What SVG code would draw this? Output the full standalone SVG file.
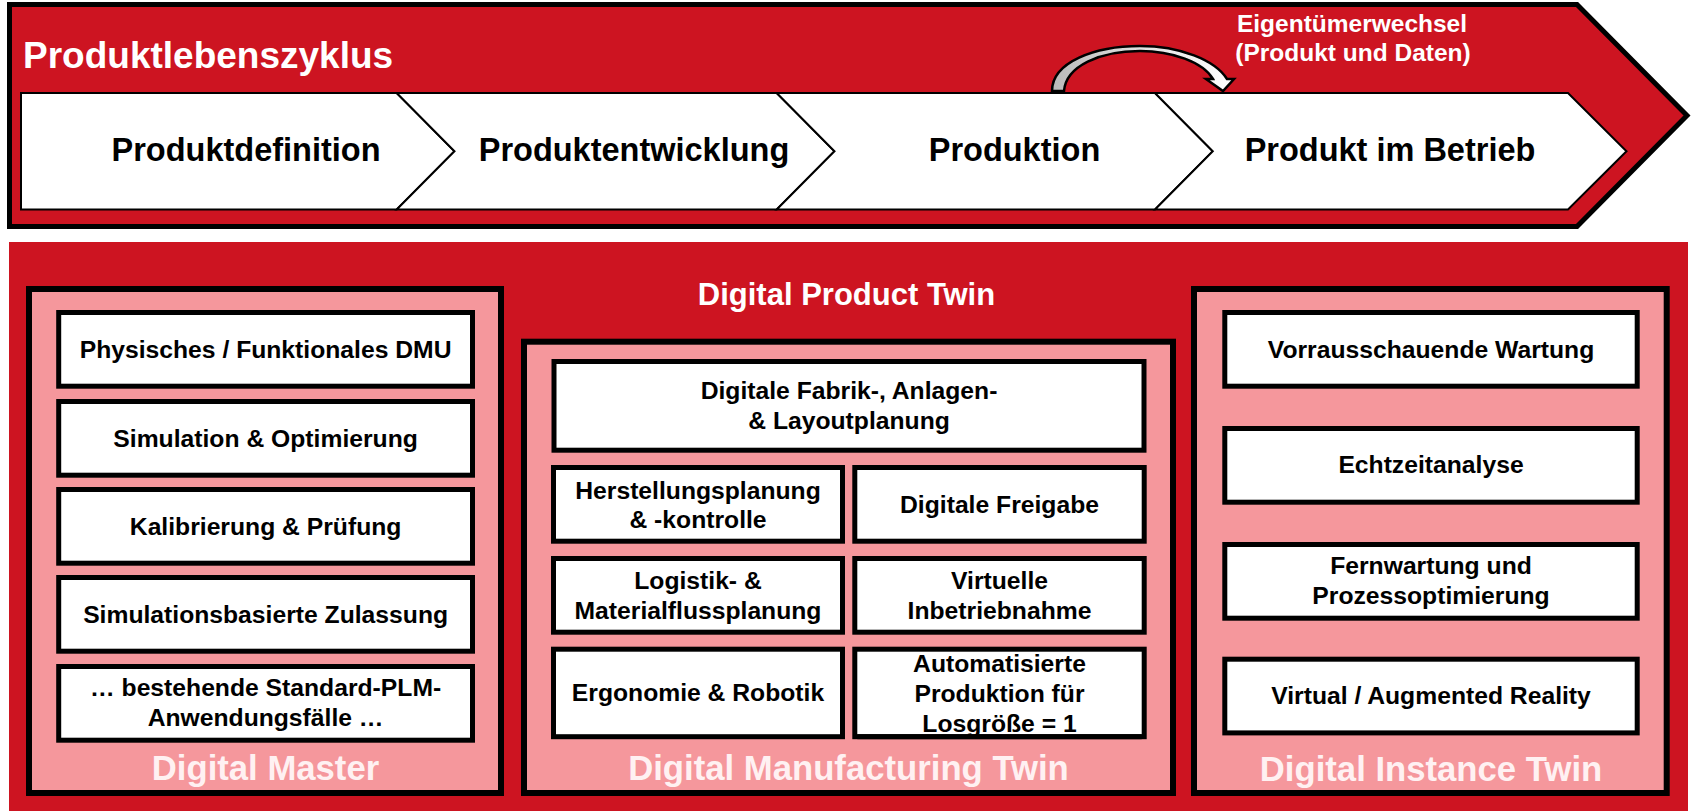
<svg xmlns="http://www.w3.org/2000/svg" width="1693" height="811" viewBox="0 0 1693 811">
<defs>
<linearGradient id="arrowGrad" x1="1052" y1="0" x2="1234" y2="0" gradientUnits="userSpaceOnUse">
<stop offset="0" stop-color="#b9b9b9"/>
<stop offset="0.55" stop-color="#e6e6e6"/>
<stop offset="1" stop-color="#ffffff"/>
</linearGradient>
</defs>
<style>
text{font-family:"Liberation Sans",Arial,Helvetica,sans-serif;font-weight:bold;text-anchor:middle}
.item{fill:#ffffff;stroke:#000000;stroke-width:5}
.itemt{font-size:24.7px;fill:#000000}
.group{fill:#f5979c;stroke:#000000;stroke-width:6}
.gtitle{font-size:34.7px;fill:#fff1f2}
.chev{fill:#ffffff;stroke:#000000;stroke-width:2}
.phase{font-size:32.5px;fill:#000000}
</style>
<rect width="1693" height="811" fill="#ffffff"/>

<g id="lifecycle">
<polygon points="9.5,4.5 1577,4.5 1687,115.5 1577,226.5 9.5,226.5" fill="#cd1421" stroke="#000000" stroke-width="5"/>
<text x="23" y="68" style="text-anchor:start;font-size:37px;fill:#ffffff">Produktlebenszyklus</text>
</g>

<g id="phase1">
<polygon class="chev" points="21,93 396.7,93 454.5,151.3 396.7,209.5 21,209.5"/>
<text class="phase" x="246" y="161">Produktdefinition</text>
</g>
<g id="phase2">
<polygon class="chev" points="396.7,93 776.7,93 834.5,151.3 776.7,209.5 396.7,209.5 454.5,151.3"/>
<text class="phase" x="634" y="161">Produktentwicklung</text>
</g>
<g id="phase3">
<polygon class="chev" points="776.7,93 1155,93 1212.8,151.3 1155,209.5 776.7,209.5 834.5,151.3"/>
<text class="phase" x="1014.5" y="161">Produktion</text>
</g>
<g id="phase4">
<polygon class="chev" points="1155,93 1568,93 1626.5,151.3 1568,209.5 1155,209.5 1212.8,151.3"/>
<text class="phase" x="1390" y="161">Produkt im Betrieb</text>
</g>

<g id="connectors">
<path d="M 1052 91 C 1052 62, 1095 46, 1140 46 C 1180 46, 1215 60, 1227 79 L 1234 79 L 1223 91 L 1206 79 L 1213 79 C 1203 62, 1172 51, 1140 51 C 1100 51, 1066 66, 1064 91 Z" fill="url(#arrowGrad)" stroke="#000000" stroke-width="2.5" stroke-linejoin="miter"/>
</g>

<g id="ownership-label">
<text x="1352" y="32" style="font-size:24.5px;fill:#ffffff">Eigentümerwechsel</text>
<text x="1353" y="61" style="font-size:24.5px;fill:#ffffff">(Produkt und Daten)</text>
</g>

<rect id="twin-area" x="9" y="242" width="1679" height="569" fill="#cd1421"/>

<g id="digital-product-twin">
<text x="846.5" y="305" style="font-size:31px;fill:#ffffff">Digital Product Twin</text>
</g>

<g id="digital-master">
<rect class="group" x="29" y="289" width="472" height="504"/>
<text class="gtitle" x="265.5" y="780">Digital Master</text>
</g>
<g id="dm-1"><rect class="item" x="58.7" y="312.5" width="413.8" height="73.7"/><text class="itemt" x="265.6" y="358">Physisches / Funktionales DMU</text></g>
<g id="dm-2"><rect class="item" x="58.7" y="401.5" width="413.8" height="73.7"/><text class="itemt" x="265.6" y="447">Simulation &amp; Optimierung</text></g>
<g id="dm-3"><rect class="item" x="58.7" y="489.5" width="413.8" height="73.7"/><text class="itemt" x="265.6" y="535">Kalibrierung &amp; Prüfung</text></g>
<g id="dm-4"><rect class="item" x="58.7" y="577.5" width="413.8" height="73.7"/><text class="itemt" x="265.6" y="622.5">Simulationsbasierte Zulassung</text></g>
<g id="dm-5"><rect class="item" x="58.7" y="666.5" width="413.8" height="73.7"/><text class="itemt" x="265.6" y="696">… bestehende Standard-PLM-</text><text class="itemt" x="265.6" y="726">Anwendungsfälle …</text></g>

<g id="digital-manufacturing-twin">
<rect class="group" x="524" y="341.7" width="649" height="451.3"/>
<text class="gtitle" x="848.5" y="780">Digital Manufacturing Twin</text>
</g>
<g id="dmt-1"><rect class="item" x="554" y="361.5" width="590" height="88.7"/><text class="itemt" x="849" y="398.5">Digitale Fabrik-, Anlagen-</text><text class="itemt" x="849" y="428.5">&amp; Layoutplanung</text></g>
<g id="dmt-2"><rect class="item" x="553.5" y="467.5" width="289" height="73.7"/><text class="itemt" x="698" y="498.5">Herstellungsplanung</text><text class="itemt" x="698" y="527.5">&amp; -kontrolle</text></g>
<g id="dmt-3"><rect class="item" x="854.8" y="467.5" width="289.4" height="73.7"/><text class="itemt" x="999.5" y="512.5">Digitale Freigabe</text></g>
<g id="dmt-4"><rect class="item" x="553.5" y="558.5" width="289" height="73.7"/><text class="itemt" x="698" y="589">Logistik- &amp;</text><text class="itemt" x="698" y="619">Materialflussplanung</text></g>
<g id="dmt-5"><rect class="item" x="854.8" y="558.5" width="289.4" height="73.7"/><text class="itemt" x="999.5" y="588.5">Virtuelle</text><text class="itemt" x="999.5" y="618.5">Inbetriebnahme</text></g>
<g id="dmt-6"><rect class="item" x="553.5" y="649.2" width="289" height="87.5"/><text class="itemt" x="698" y="701">Ergonomie &amp; Robotik</text></g>
<g id="dmt-7"><rect x="854.8" y="649.2" width="289.4" height="87.5" fill="#ffffff"/><text class="itemt" x="999.5" y="672">Automatisierte</text><text class="itemt" x="999.5" y="702">Produktion für</text><text class="itemt" x="999.5" y="732">Losgröße = 1</text><rect x="854.8" y="649.2" width="289.4" height="87.5" fill="none" stroke="#000000" stroke-width="5"/><rect x="857.3" y="734.2" width="284.4" height="5" fill="#000000"/></g>

<g id="digital-instance-twin">
<rect class="group" x="1194" y="289" width="472.7" height="504"/>
<text class="gtitle" x="1431" y="780.5">Digital Instance Twin</text>
</g>
<g id="dit-1"><rect class="item" x="1224.8" y="312.5" width="412.4" height="73.7"/><text class="itemt" x="1431" y="358.3">Vorrausschauende Wartung</text></g>
<g id="dit-2"><rect class="item" x="1224.8" y="428.5" width="412.4" height="73.7"/><text class="itemt" x="1431" y="473.3">Echtzeitanalyse</text></g>
<g id="dit-3"><rect class="item" x="1224.8" y="544.5" width="412.4" height="73.7"/><text class="itemt" x="1431" y="574.3">Fernwartung und</text><text class="itemt" x="1431" y="604.3">Prozessoptimierung</text></g>
<g id="dit-4"><rect class="item" x="1224.8" y="659.2" width="412.4" height="73.7"/><text class="itemt" x="1431" y="704.3">Virtual / Augmented Reality</text></g>
</svg>
